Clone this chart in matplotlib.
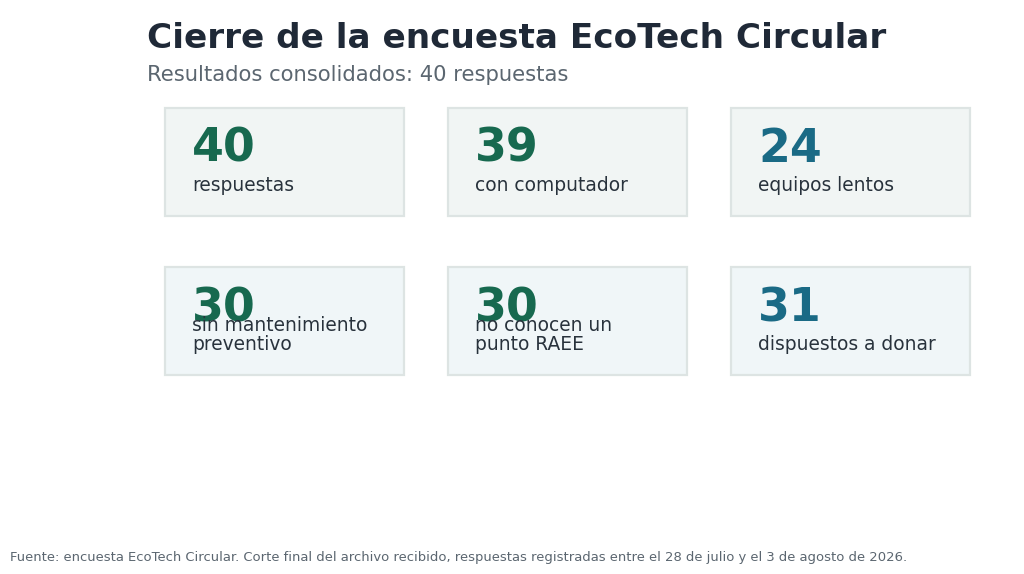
import matplotlib
matplotlib.use("Agg")
import matplotlib.pyplot as plt
from matplotlib.patches import Rectangle

plt.rcParams["font.family"] = ["DejaVu Sans"]

title = "Cierre de la encuesta EcoTech Circular"
subtitle = "Resultados consolidados: 40 respuestas"
footer = ("Fuente: encuesta EcoTech Circular. Corte final del archivo recibido, "
          "respuestas registradas entre el 28 de julio y el 3 de agosto de 2026.")

values = [40, 39, 24, 30, 30, 31]
labels = ["respuestas", "con computador", "equipos lentos",
          "sin mantenimiento\npreventivo", "no conocen un\npunto RAEE", "dispuestos a donar"]
value_colors = ["#17694f", "#17694f", "#1a6a85", "#17694f", "#17694f", "#1a6a85"]
card_faces = ["#f1f5f4", "#f1f5f4", "#f1f5f4", "#f0f6f8", "#f0f6f8", "#f0f6f8"]

fig = plt.figure(figsize=(10.24, 5.74), dpi=100)
ax = fig.add_axes([0, 0, 1, 1])
ax.set_xlim(0, 1024)
ax.set_ylim(574, 0)
ax.axis("off")

card_w, card_h = 239, 108
x0, y0 = 165, 108
dx, dy = 283, 159

for i, (val, lab) in enumerate(zip(values, labels)):
    col, row = i % 3, i // 3
    cx = x0 + col * dx
    cy = y0 + row * dy
    ax.add_patch(Rectangle((cx, cy), card_w, card_h, facecolor=card_faces[i],
                           edgecolor="#dde4e3", linewidth=1.6, zorder=1))
    ax.text(cx + 27, cy + 54, str(val), fontsize=33, fontweight="bold",
            color=value_colors[i], va="baseline", ha="left", zorder=2)
    ax.text(cx + 27, cy + 87, lab, fontsize=13.4, color="#28323c",
            va="bottom", ha="left", linespacing=1.0, zorder=3)

fig.text(147 / 1024, 1 - 38.5 / 574, title, fontsize=24.7, fontweight="bold",
         color="#1f2937", va="center", ha="left")
fig.text(147 / 1024, 1 - 75 / 574, subtitle, fontsize=15.2, color="#5b6670",
         va="center", ha="left")
fig.text(10 / 1024, 1 - 558 / 574, footer, fontsize=9.45, color="#5b6670",
         va="center", ha="left")

fig.savefig("out.png", dpi=100, facecolor="white")
